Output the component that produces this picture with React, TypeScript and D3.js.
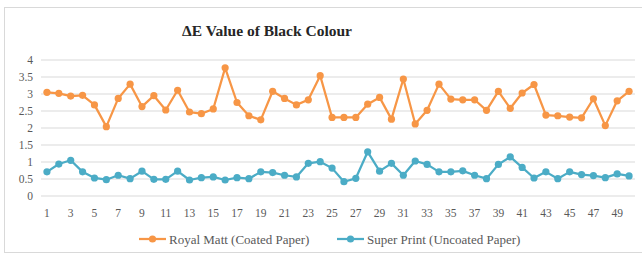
import React from "react";
import * as d3 from "d3";

const categories: number[] = Array.from({ length: 50 }, (_, i) => i + 1);
const royalMatt: number[] = [
  3.05, 3.02, 2.94, 2.96, 2.68, 2.04, 2.87, 3.29, 2.63, 2.95,
  2.53, 3.11, 2.47, 2.42, 2.56, 3.77, 2.75, 2.36, 2.24, 3.08,
  2.87, 2.68, 2.83, 3.54, 2.31, 2.31, 2.31, 2.70, 2.90, 2.26,
  3.44, 2.12, 2.52, 3.29, 2.85, 2.83, 2.83, 2.52, 3.08, 2.58,
  3.03, 3.28, 2.38, 2.36, 2.32, 2.30, 2.86, 2.07, 2.80, 3.08,
];
const superPrint: number[] = [
  0.71, 0.94, 1.05, 0.71, 0.53, 0.48, 0.61, 0.51, 0.73, 0.49,
  0.49, 0.73, 0.47, 0.54, 0.56, 0.47, 0.54, 0.51, 0.71, 0.69,
  0.61, 0.56, 0.96, 1.01, 0.82, 0.42, 0.52, 1.30, 0.73, 0.96,
  0.61, 1.03, 0.93, 0.71, 0.71, 0.74, 0.61, 0.51, 0.93, 1.15,
  0.84, 0.53, 0.71, 0.51, 0.71, 0.63, 0.60, 0.54, 0.65, 0.59,
];
const yTicks: number[] = [0, 0.5, 1, 1.5, 2, 2.5, 3, 3.5, 4];
const seriesNames: string[] = ["Royal Matt (Coated Paper)", "Super Print (Uncoated Paper)"];
const seriesColors: string[] = ["#F79646", "#4BACC6"];
const title = "ΔE Value of Black Colour";

const W = 642;
const H = 256;
const FONT = "Liberation Serif, DejaVu Serif, serif";

export default function App() {
  const x = d3.scaleBand<number>().domain(categories).range([41, 635]);
  const y = d3.scaleLinear().domain([0, 4]).range([196, 60]);
  const cx = (c: number) => (x(c) ?? 0) + x.bandwidth() / 2;
  const line = d3
    .line<number>()
    .x((_, i) => cx(categories[i]))
    .y((d) => y(d));
  const series = [royalMatt, superPrint];
  const textColor = "#595959";
  const legendX = [139, 337];
  const ts = { fontFamily: FONT };

  return (
    <svg
      width={W}
      height={H}
      style={{ position: "absolute", left: 0, top: 0, background: "#fff" }}
    >
      <rect x={4.5} y={7.5} width={W} height={245} fill="#fff" stroke="#D9D9D9" strokeWidth={1} />
      <text x={267} y={36} textAnchor="middle" fontSize={15.5} fontWeight="bold" fill="#262626" style={ts}>
        {title}
      </text>
      {yTicks.map((t) => (
        <g key={t}>
          <line x1={41} x2={635} y1={y(t)} y2={y(t)} stroke="#D9D9D9" strokeWidth={1} />
          <text x={33} y={y(t) + 4} textAnchor="end" fontSize={11.5} fill={textColor} style={ts}>
            {t}
          </text>
        </g>
      ))}
      {categories
        .filter((c) => c % 2 === 1)
        .map((c) => (
          <text key={c} x={cx(c)} y={217} textAnchor="middle" fontSize={11.5} fill={textColor} style={ts}>
            {c}
          </text>
        ))}
      {series.map((s, k) => (
        <g key={k}>
          <path d={line(s) ?? ""} fill="none" stroke={seriesColors[k]} strokeWidth={2.25} strokeLinejoin="round" />
          {s.map((v, i) => (
            <circle key={i} cx={cx(categories[i])} cy={y(v)} r={3.6} fill={seriesColors[k]} />
          ))}
        </g>
      ))}
      {seriesNames.map((n, k) => (
        <g key={n}>
          <line x1={legendX[k]} x2={legendX[k] + 27} y1={239} y2={239} stroke={seriesColors[k]} strokeWidth={2.25} />
          <circle cx={legendX[k] + 13.5} cy={239} r={3.6} fill={seriesColors[k]} />
          <text x={legendX[k] + 30} y={243.5} fontSize={13} fill={textColor} style={ts}>
            {n}
          </text>
        </g>
      ))}
    </svg>
  );
}
